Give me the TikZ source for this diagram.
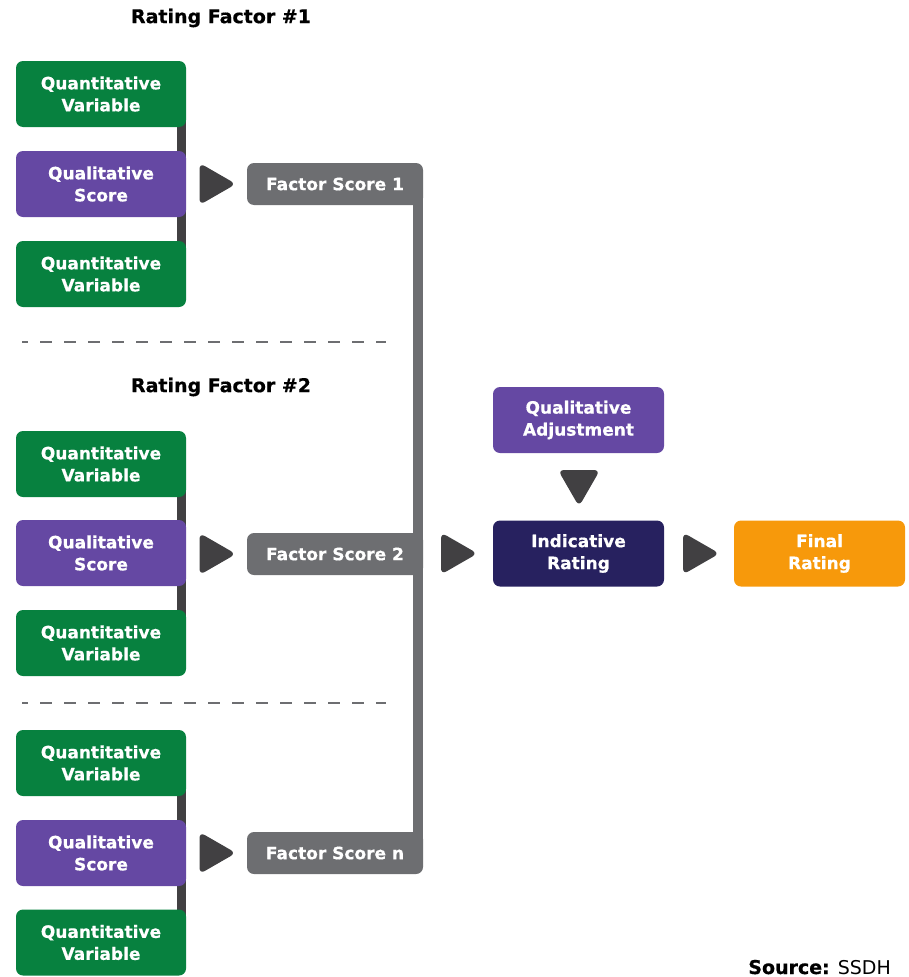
\documentclass[tikz,border=0pt]{standalone}
\usepackage{fontspec}
\setmainfont{DejaVu Sans}[BoldFeatures={FakeBold=0.6}]
\usetikzlibrary{backgrounds}

\definecolor{qgreen}{HTML}{07813F}
\definecolor{qpurple}{HTML}{6548A3}
\definecolor{fsgray}{HTML}{6D6E71}
\definecolor{arrowc}{HTML}{414042}
\definecolor{navy}{HTML}{27215F}
\definecolor{gold}{HTML}{F7990B}

\newcommand\bxfont{\fontsize{17}{22}\selectfont\bfseries}
\newcommand\ttlfont{\fontsize{19}{23}\selectfont\bfseries}

\tikzset{
  box/.style={rectangle, rounded corners=7pt, fill=#1, text=white, font=\bxfont,
              align=center, minimum width=170pt, minimum height=66pt, inner sep=0pt},
  scorebox/.style={rectangle, rounded corners=7pt, fill=fsgray, text=white, font=\bxfont,
              align=center, minimum width=176pt, minimum height=42pt, inner sep=0pt},
  title/.style={font=\ttlfont, text=black, inner sep=0pt},
  tri/.pic={\fill[arrowc, rounded corners=6pt] (-17,-21) -- (19.5,0) -- (-17,21) -- cycle;},
  sidebar/.style={line width=9pt, arrowc},
  mainbar/.style={line width=10pt, fsgray},
  sep/.style={line width=2pt, fsgray, dash pattern=on 12pt off 12pt, dash phase=6pt}
}

\begin{document}
\begin{tikzpicture}[x=1pt, y=-1pt]
\useasboundingbox (0,0) rectangle (908,977);

% section titles
\node[title] (t1) at (221,18) {Rating Factor \#1};
\node[title] (t2) at (221,387) {Rating Factor \#2};

% rating factor 1
\node[box=qgreen]  (a1) at (101,94)  {Quantitative\\Variable};
\node[box=qpurple] (a2) at (101,184) {Qualitative\\Score};
\node[box=qgreen]  (a3) at (101,274) {Quantitative\\Variable};
\node[scorebox]    (fs1) at (335,184) {Factor Score 1};
\pic at (216.5,184) {tri};

% rating factor 2
\node[box=qgreen]  (b1) at (101,464) {Quantitative\\Variable};
\node[box=qpurple] (b2) at (101,553) {Qualitative\\Score};
\node[box=qgreen]  (b3) at (101,643) {Quantitative\\Variable};
\node[scorebox]    (fs2) at (335,554) {Factor Score 2};
\pic at (216.5,554) {tri};

% rating factor n
\node[box=qgreen]  (c1) at (101,763) {Quantitative\\Variable};
\node[box=qpurple] (c2) at (101,853) {Qualitative\\Score};
\node[box=qgreen]  (c3) at (101,942.5) {Quantitative\\Variable};
\node[scorebox]    (fsn) at (335,853) {Factor Score n};
\pic at (216.5,853) {tri};

% separators
\draw[sep] (22,342) -- (386,342);
\draw[sep] (22,703) -- (386,703);

% aggregation
\node[box=qpurple, minimum width=171pt] (adj) at (578.5,420) {Qualitative\\Adjustment};
\node[box=navy, minimum width=171pt] (ind) at (578.5,553.5) {Indicative\\Rating};
\node[box=gold, minimum width=171pt] (fin) at (819.5,553.5) {Final\\Rating};
\pic at (458,553.5) {tri};
\pic at (700,553.5) {tri};
\pic[rotate=-90] at (579,487) {tri};

% source note
\node[anchor=base east, inner sep=0pt, font=\fontsize{19}{23}\selectfont] (src) at (891,974)
  {\textbf{Source:} SSDH};

% bars behind the boxes
\begin{scope}[on background layer]
  \draw[sidebar] ([xshift=80.5pt]a1.center) -- ([xshift=80.5pt]a3.center);
  \draw[sidebar] ([xshift=80.5pt]b1.center) -- ([xshift=80.5pt]b3.center);
  \draw[sidebar] ([xshift=80.5pt]c1.center) -- ([xshift=80.5pt]c3.center);
  \draw[mainbar] ([xshift=83pt]fs1.center) -- ([xshift=83pt]fsn.center);
\end{scope}
\end{tikzpicture}
\end{document}
